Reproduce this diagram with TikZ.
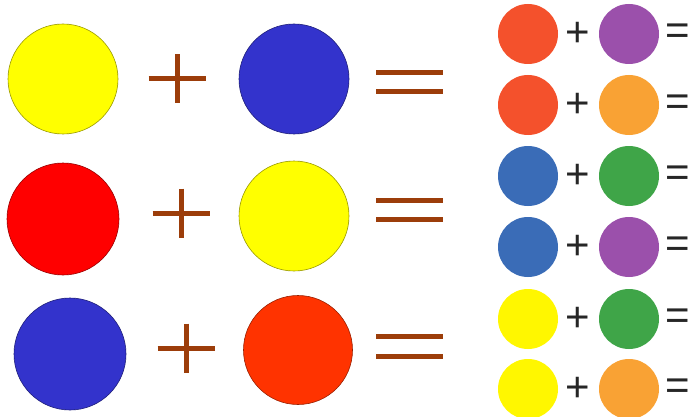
\documentclass[tikz,border=0pt]{standalone}
\usepackage{fontspec}
\setmainfont{Liberation Sans}
\usepackage{xcolor}
\usetikzlibrary{positioning}

\definecolor{pureyellow}{HTML}{FFFF00}
\definecolor{deepblue}{HTML}{3333CC}
\definecolor{purered}{HTML}{FF0000}
\definecolor{flame}{HTML}{FF3300}
\definecolor{signbrown}{HTML}{9C3D0A}
\definecolor{tomato}{HTML}{F4512C}
\definecolor{violet}{HTML}{9B50AB}
\definecolor{amber}{HTML}{F9A234}
\definecolor{steel}{HTML}{3A6CB7}
\definecolor{leaf}{HTML}{3FA548}
\definecolor{lemon}{HTML}{FFF700}

\tikzset{
  bigdot/.style={circle, inner sep=0pt, minimum size=110pt, fill=#1,
    draw=#1!60!black, line width=0.6pt},
  smalldot/.style={circle, inner sep=0pt, minimum size=60pt, fill=#1},
  sign/.style={draw=signbrown, line width=5pt},
  glyph/.style={text=black!85, font=\fontsize{42}{42}\selectfont, inner sep=0pt}
}

\begin{document}
\begin{tikzpicture}[x=1pt, y=-1pt]
\useasboundingbox (0,0) rectangle (690,417);
\fill[white] (0,0) rectangle (690,417);

% big sums on the left
\node[bigdot=pureyellow] (L1a) at (63,79) {};
\node[bigdot=deepblue] (L1b) at (294,79) {};
\node[bigdot=purered, minimum size=112pt] (L2a) at (63,219) {};
\node[bigdot=pureyellow] (L2b) at (294,216) {};
\node[bigdot=deepblue, minimum size=112pt] (L3a) at (70,354) {};
\node[bigdot=flame, minimum size=109pt] (L3b) at (298,350) {};

\foreach \px/\py/\ea/\eb in {177/79/73/92, 181/213/200/219, 186/348/336/356} {
  \draw[sign] (\px-28.5,\py) -- (\px+28.5,\py);
  \draw[sign] (\px,\py-24.5) -- (\px,\py+24.5);
  \draw[sign] (376,\ea) -- (443,\ea);
  \draw[sign] (376,\eb) -- (443,\eb);
}

% small sums on the right
\foreach \i/\y/\ca/\cb in {1/34/tomato/violet, 2/105/tomato/amber,
    3/176/steel/leaf, 4/247/steel/violet,
    5/319/lemon/leaf, 6/389/lemon/amber} {
  \node[smalldot=\ca] (R\i a) at (528,\y) {};
  \node[smalldot=\cb] (R\i b) at (629,\y) {};
  \node[glyph] (P\i) at (578,\y) {+};
  \node[glyph] (E\i) at (677.5,\y) {=};
}

\end{tikzpicture}
\end{document}
